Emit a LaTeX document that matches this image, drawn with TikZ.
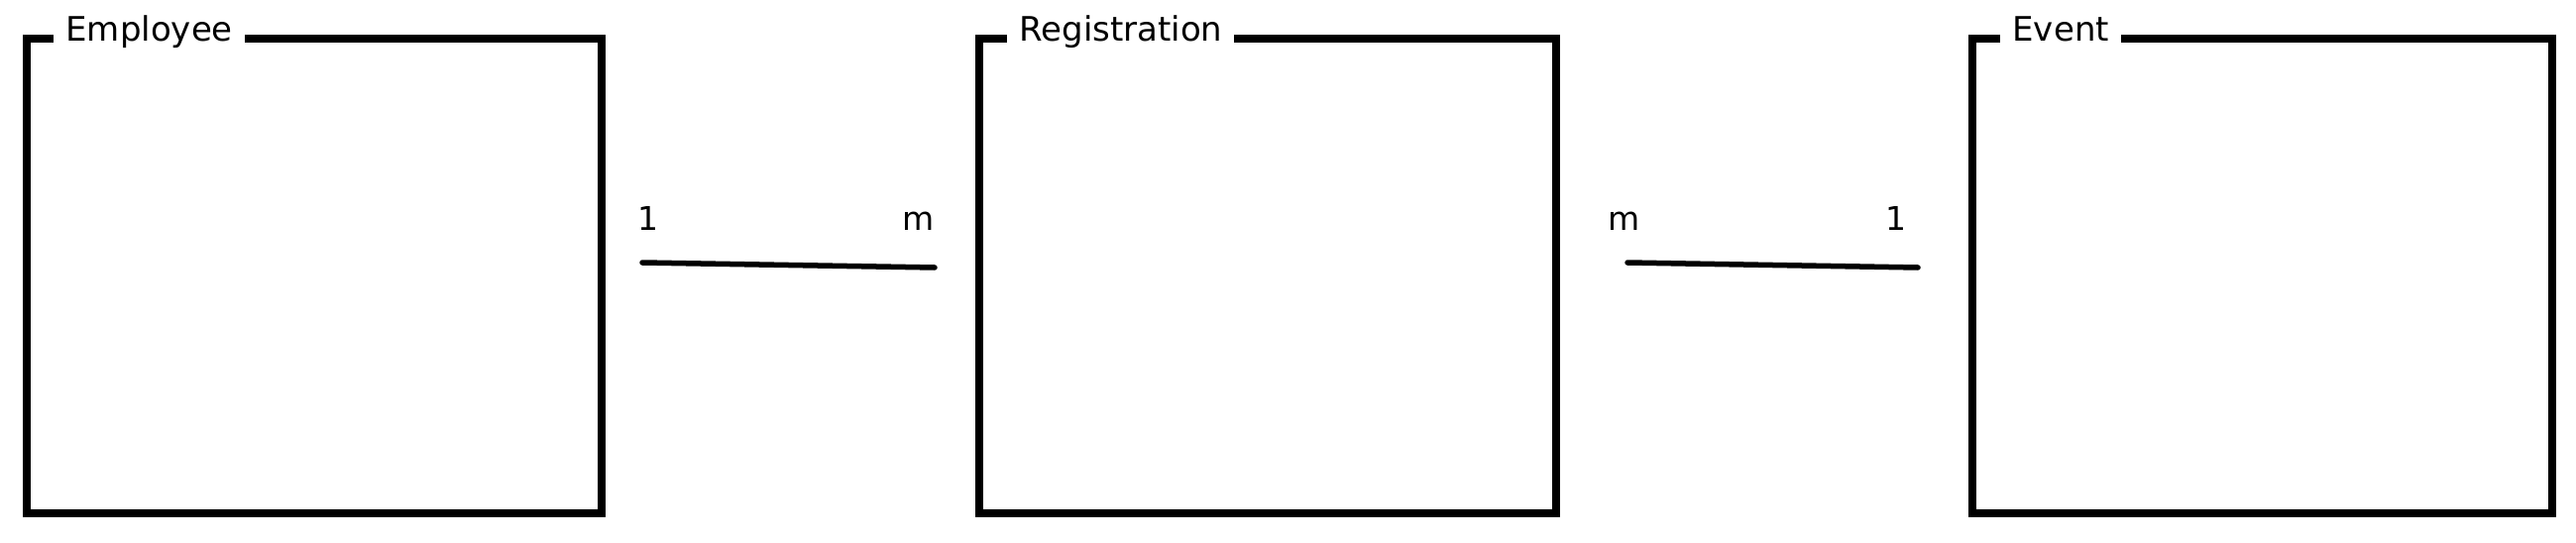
\documentclass[tikz,border=0pt]{standalone}
\usepackage{fontspec}
\setmainfont{DejaVu Sans}
\begin{document}
\begin{tikzpicture}[x=1pt,y=-1pt,
  ent/.style={draw, line width=7.5pt, minimum width=#1, minimum height=479pt, inner sep=0pt},
  ttl/.style={fill=white, inner xsep=12pt, inner ysep=1pt, anchor=base west, font=\fontsize{34}{40}\selectfont},
  card/.style={anchor=base, inner sep=0pt, font=\fontsize{33}{40}\selectfont},
  conn/.style={line width=5.5pt, line cap=round}]
\useasboundingbox (0,0) rectangle (2599,548);
\node[ent=580pt] (emp) at (317,278.5) {};
\node[ent=582pt] (reg) at (1279,278.5) {};
\node[ent=585pt] (evt) at (2282.5,278.5) {};
\node[ttl] (empt) at ([xshift=31pt,yshift=-6pt]emp.north west) {Employee};
\node[ttl] (regt) at ([xshift=32pt,yshift=-6pt]reg.north west) {Registration};
\node[ttl] (evtt) at ([xshift=32pt,yshift=-6pt]evt.north west) {Event};
\coordinate (a1) at (648,265);
\coordinate (a2) at (943,270);
\coordinate (b1) at (1642,265);
\coordinate (b2) at (1935,270);
\draw[conn] (a1) -- (a2);
\draw[conn] (b1) -- (b2);
\node[card] (a1l) at (654,233) {1};
\node[card] (a2l) at (927,233) {m};
\node[card] (b1l) at (1639,233) {m};
\node[card] (b2l) at (1913,233) {1};
\end{tikzpicture}
\end{document}
